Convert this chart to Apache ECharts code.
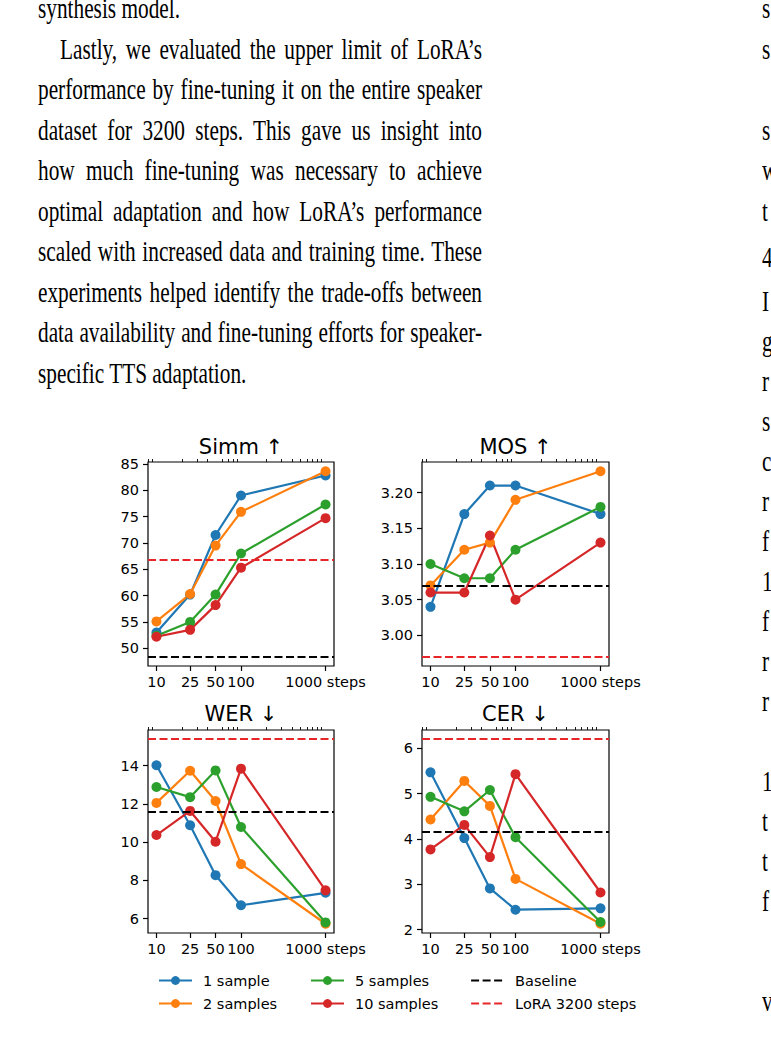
<!DOCTYPE html>
<html><head><meta charset="utf-8">
<script src="https://cdn.jsdelivr.net/npm/echarts@6/dist/echarts.min.js"></script>
<style>
html,body{margin:0;padding:0;width:771px;height:1045px;overflow:hidden;background:#fff;}
#chart{position:absolute;left:0;top:0;width:771px;height:1045px;}
.ln{position:absolute;font-family:'Liberation Serif','Times New Roman',serif;font-size:30px;line-height:34px;white-space:nowrap;color:#000;transform-origin:0 0;pointer-events:none;}
</style></head><body>
<div id="chart"></div>
<script>
// ---------- chart data ----------
const steps = [10, 25, 50, 100, 1000];
const stepLabels = ['10', '25', '50', '100', '1000 steps'];
const minorSteps = [8, 9, 20, 30, 40, 60, 70, 80, 90, 200, 300, 400, 500, 600, 700, 800, 900];
const sampleNames = ['1 sample', '2 samples', '5 samples', '10 samples'];
const metricTitles = ['Simm ↑', 'MOS ↑', 'WER ↓', 'CER ↓'];

const simm_1 = [53.0, 60.2, 71.5, 79.0, 82.8];
const simm_2 = [55.1, 60.3, 69.5, 75.9, 83.6];
const simm_5 = [52.4, 55.0, 60.2, 68.0, 77.3];
const simm_10 = [52.2, 53.5, 58.2, 65.3, 74.7];

const mos_1 = [3.04, 3.17, 3.21, 3.21, 3.17];
const mos_2 = [3.07, 3.12, 3.13, 3.19, 3.23];
const mos_5 = [3.10, 3.08, 3.08, 3.12, 3.18];
const mos_10 = [3.06, 3.06, 3.14, 3.05, 3.13];

const wer_1 = [14.02, 10.88, 8.27, 6.70, 7.35];
const wer_2 = [12.05, 13.73, 12.15, 8.85, 5.73];
const wer_5 = [12.88, 12.35, 13.75, 10.79, 5.80];
const wer_10 = [10.37, 11.63, 10.02, 13.84, 7.48];

const cer_1 = [5.47, 4.02, 2.91, 2.44, 2.47];
const cer_2 = [4.43, 5.28, 4.73, 3.12, 2.13];
const cer_5 = [4.93, 4.61, 5.08, 4.04, 2.17];
const cer_10 = [3.77, 4.31, 3.60, 5.43, 2.82];

const baseline = [48.4, 3.07, 11.58, 4.15];
const lora3200 = [66.9, 2.97, 15.38, 6.2];

const simmTicks = [50, 55, 60, 65, 70, 75, 80, 85];
const mosTicks = [3.00, 3.05, 3.10, 3.15, 3.20];
const werTicks = [6, 8, 10, 12, 14];
const cerTicks = [2, 3, 4, 5, 6];

// ---------- page text ----------
const leftLines = [
  {t: 'synthesis model.', x: 38, j: false},
  {t: 'Lastly, we evaluated the upper limit of LoRA’s', x: 60, j: true},
  {t: 'performance by fine-tuning it on the entire speaker', x: 38, j: true},
  {t: 'dataset for 3200 steps.  This gave us insight into', x: 38, j: true},
  {t: 'how much fine-tuning was necessary to achieve', x: 38, j: true},
  {t: 'optimal adaptation and how LoRA’s performance', x: 38, j: true},
  {t: 'scaled with increased data and training time. These', x: 38, j: true},
  {t: 'experiments helped identify the trade-offs between', x: 38, j: true},
  {t: 'data availability and fine-tuning efforts for speaker-', x: 38, j: true},
  {t: 'specific TTS adaptation.', x: 38, j: false}
];
const rightLetters = ['s','s','s','w','t','4','I','g','r','s','c','r','f','1','f','r','r','1','t','t','f','v'];
const rightBaselines = [18.5,59,140,180.5,221,267,311,351,391,431,471,511,551,591,631,671,711,791,831,871,911,1011];

(function drawText(){
  const fs = 30, lh = 34;
  const sx = 0.71, colRight = 482;
  const baseOff = (lh - 1.107 * fs) / 2 + 0.891 * fs;
  leftLines.forEach((ln, i) => {
    const d = document.createElement('div');
    d.className = 'ln';
    d.textContent = ln.t;
    d.style.left = ln.x + 'px';
    d.style.top = (18.5 + 40.5 * i - baseOff) + 'px';
    if (ln.j) {
      d.style.width = ((colRight - ln.x) / sx) + 'px';
      d.style.textAlign = 'justify';
      d.style.textAlignLast = 'justify';
    }
    d.style.transform = 'scaleX(' + sx + ')';
    document.body.appendChild(d);
  });
  rightLetters.forEach((c, i) => {
    const d = document.createElement('div');
    d.className = 'ln';
    d.textContent = c;
    d.style.left = '762px';
    d.style.top = (rightBaselines[i] - baseOff) + 'px';
    d.style.transform = 'scaleX(' + sx + ')';
    document.body.appendChild(d);
  });
})();

// ---------- chart ----------
const colors = ['#1f77b4', '#ff7f0e', '#2ca02c', '#d62728'];
const loraColor = '#e8262a';
const metricSeries = [
  [simm_1, simm_2, simm_5, simm_10],
  [mos_1, mos_2, mos_5, mos_10],
  [wer_1, wer_2, wer_5, wer_10],
  [cer_1, cer_2, cer_5, cer_10]
];
const metricTicks = [simmTicks, mosTicks, werTicks, cerTicks];
const tickFmt = [v => String(v), v => v.toFixed(2), v => String(v), v => String(v)];

const grids = [
  {left: 148, top: 462, width: 186, height: 204},
  {left: 422, top: 462, width: 187, height: 204},
  {left: 148, top: 730, width: 186, height: 203},
  {left: 422, top: 730, width: 187, height: 203}
];
const titlePos = [[241, 447], [515.5, 447], [241, 714], [515.5, 714]];

const FONT = 'DejaVu Sans';
const FS = 14.5;
const lw = 2.2;
const dash = [8, 3.5];
const transparent = 'rgba(0,0,0,0)';

// matplotlib-like autoscale with 5% margins
function limits(g) {
  const vals = [].concat(...metricSeries[g], [baseline[g], lora3200[g]]);
  const lo = Math.min(...vals), hi = Math.max(...vals), r = hi - lo;
  return [lo - 0.05 * r, hi + 0.05 * r];
}
const lx0 = Math.log10(steps[0]), lx1 = Math.log10(steps[steps.length - 1]);
const xMin = Math.pow(10, lx0 - 0.05 * (lx1 - lx0));
const xMax = Math.pow(10, lx1 + 0.05 * (lx1 - lx0));

function stepLabel(v) {
  const i = steps.findIndex(s => Math.abs(s - v) / s < 1e-6);
  return i >= 0 ? stepLabels[i] : '';
}

const xAxis = [], yAxis = [], series = [], title = [];
grids.forEach((gr, g) => {
  xAxis.push({
    type: 'log', logBase: 10, gridIndex: g, min: xMin, max: xMax,
    axisLine: {show: false}, splitLine: {show: false}, minorTick: {show: false},
    axisTick: {show: true, customValues: steps, length: 5, lineStyle: {color: '#000', width: 1.2}},
    axisLabel: {customValues: steps, formatter: stepLabel, margin: 8, color: '#000', fontFamily: FONT, fontSize: FS}
  });
  xAxis.push({
    type: 'log', logBase: 10, gridIndex: g, min: xMin, max: xMax,
    axisLine: {show: false}, splitLine: {show: false}, minorTick: {show: false},
    axisTick: {show: true, customValues: minorSteps, length: 3, lineStyle: {color: '#000', width: 0.9}},
    axisLabel: {show: false}
  });
  const lim = limits(g);
  yAxis.push({
    type: 'value', gridIndex: g, min: lim[0], max: lim[1],
    axisLine: {show: false}, splitLine: {show: false},
    axisTick: {show: true, customValues: metricTicks[g], length: 5, lineStyle: {color: '#000', width: 1.2}},
    axisLabel: {customValues: metricTicks[g], formatter: tickFmt[g], margin: 9, color: '#000', fontFamily: FONT, fontSize: FS}
  });
  metricSeries[g].forEach((arr, k) => {
    series.push({
      type: 'line', name: sampleNames[k], xAxisIndex: 2 * g, yAxisIndex: g,
      data: steps.map((s, i) => [s, arr[i]]),
      symbol: 'circle', symbolSize: 10, showSymbol: true,
      lineStyle: {width: lw, color: colors[k]}, itemStyle: {color: colors[k]},
      emphasis: {disabled: true}, silent: true
    });
  });
  series.push({
    type: 'line', name: 'Baseline', xAxisIndex: 2 * g, yAxisIndex: g, data: [],
    symbol: 'none', lineStyle: {width: lw, color: '#000', type: dash}, itemStyle: {color: transparent},
    markLine: {silent: true, symbol: ['none', 'none'], label: {show: false},
      lineStyle: {color: '#000', width: lw, type: dash}, emphasis: {disabled: true},
      data: [{yAxis: baseline[g]}]}
  });
  series.push({
    type: 'line', name: 'LoRA 3200 steps', xAxisIndex: 2 * g, yAxisIndex: g, data: [],
    symbol: 'none', lineStyle: {width: lw, color: loraColor, type: dash}, itemStyle: {color: transparent},
    markLine: {silent: true, symbol: ['none', 'none'], label: {show: false},
      lineStyle: {color: loraColor, width: lw, type: dash}, emphasis: {disabled: true},
      data: [{yAxis: lora3200[g]}]}
  });
  title.push({
    text: metricTitles[g], left: titlePos[g][0], top: titlePos[g][1],
    textAlign: 'center', textVerticalAlign: 'middle', padding: 0,
    textStyle: {fontFamily: FONT, fontSize: 21, fontWeight: 'normal', color: '#000'}
  });
});

const legendCommon = {
  orient: 'vertical', top: 973, padding: 0, itemWidth: 33, itemHeight: 11, itemGap: 8,
  selectedMode: false,
  textStyle: {fontFamily: FONT, fontSize: FS, color: '#000', lineHeight: 14, padding: [0, 0, 0, 6]}
};
const hlineItem = (name, color) => ({
  name: name,
  itemStyle: {color: transparent, borderWidth: 0, opacity: 0},
  lineStyle: {color: color, width: lw, type: dash}
});
const legend = [
  Object.assign({}, legendCommon, {left: 158, data: [sampleNames[0], sampleNames[1]]}),
  Object.assign({}, legendCommon, {left: 310, data: [sampleNames[2], sampleNames[3]]}),
  Object.assign({}, legendCommon, {left: 470, data: [hlineItem('Baseline', '#000'), hlineItem('LoRA 3200 steps', loraColor)]})
];

const chart = echarts.init(document.getElementById('chart'), null, {renderer: 'svg', width: 771, height: 1045});
chart.setOption({
  animation: false,
  backgroundColor: '#fff',
  title: title,
  legend: legend,
  grid: grids.map(g => Object.assign({show: true, borderColor: '#000', borderWidth: 1.2, backgroundColor: 'transparent', containLabel: false}, g)),
  xAxis: xAxis,
  yAxis: yAxis,
  series: series
});
</script>
</body></html>
